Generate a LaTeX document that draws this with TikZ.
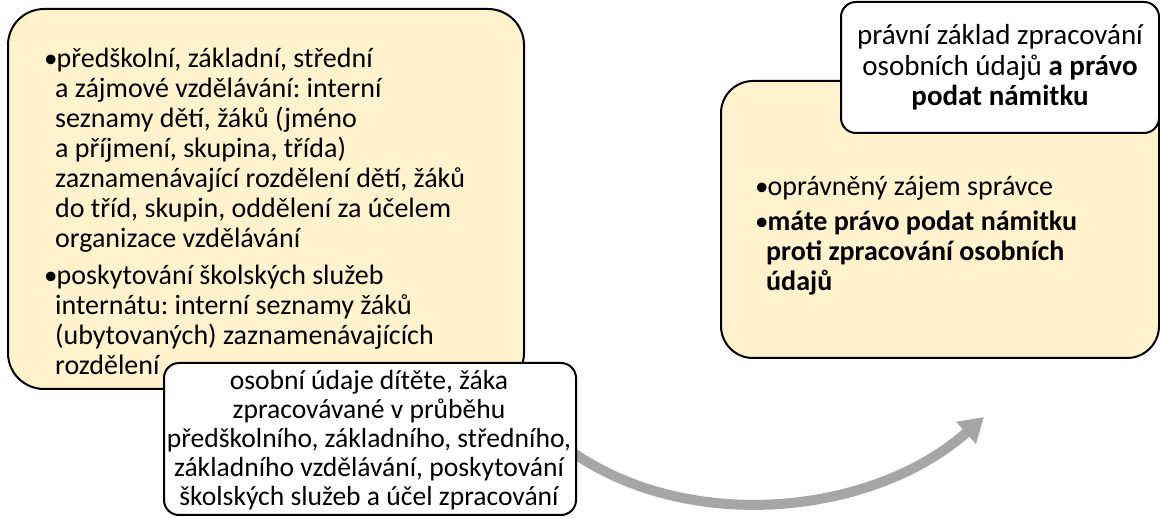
\documentclass[tikz,border=0pt]{standalone}
\usepackage{fontspec}
\setmainfont{Carlito}
\usetikzlibrary{arrows.meta,backgrounds}
\definecolor{boxyellow}{HTML}{FFF2CC}
\definecolor{arrowgray}{HTML}{A6A6A6}
\newcommand{\bitem}[1]{\par\hangindent=11pt\hangafter=1\noindent\makebox[12.5pt][l]{\raisebox{0.5pt}{\fontsize{27pt}{27pt}\selectfont\mdseries •}}#1}
\tikzset{
  ybox/.style={draw=black, line width=2pt, fill=boxyellow, rounded corners=#1, anchor=north west, inner sep=0pt},
  wbox/.style={draw=black, line width=2pt, fill=white, rounded corners=15pt, anchor=north west, inner sep=0pt},
  txt/.style={inner sep=0pt, anchor=base west},
  ctxt/.style={inner sep=0pt, anchor=base},
  bigarrow/.style={draw=arrowgray, line width=10pt, -{Triangle[width=28pt,length=24pt]}, arrowgray}
}
\frenchspacing
\begin{document}
\begin{tikzpicture}[x=1pt,y=-1pt]
\useasboundingbox (0,0) rectangle (1160,518);
% left box
\node[ybox=36pt, minimum width=516pt, minimum height=380pt] (lbox) at (7,8) {};
\node[txt] (ltext) at (44,68) {\parbox[t]{470pt}{\fontsize{28pt}{30pt}\selectfont\setlength{\parskip}{7pt}%
\bitem{předškolní, základní, střední\\a zájmové vzdělávání: interní\\seznamy dětí, žáků (jméno\\a příjmení, skupina, třída)\\zaznamenávající rozdělení dětí, žáků\\do tříd, skupin, oddělení za účelem\\organizace vzdělávání}
\bitem{poskytování školských služeb\\internátu: interní seznamy žáků\\(ubytovaných) zaznamenávajících\\rozdělení}}};
% middle white box
\node[wbox, minimum width=412pt, minimum height=152pt] (mbox) at (163,362) {};
\node[ctxt] (mtext) at (369,390) {\parbox[t]{410pt}{\centering\fontsize{27.6pt}{29pt}\selectfont osobní údaje dítěte, žáka\\zpracovávané v průběhu\\předškolního, základního, středního,\\základního vzdělávání, poskytování\\školských služeb a účel zpracování}};
% right box
\node[ybox=32pt, minimum width=438pt, minimum height=277pt] (rbox) at (720,80) {};
\node[txt] (rtext) at (755,196) {\parbox[t]{390pt}{\fontsize{28pt}{30pt}\selectfont\setlength{\parskip}{5pt}%
\bitem{oprávněný zájem správce}
\bitem{\textbf{máte právo podat námitku\\proti zpracování osobních\\údajů}}}};
% top white box
\node[wbox, minimum width=318pt, minimum height=131pt] (tbox) at (840,1) {};
\node[ctxt] (ttext) at (1000,45) {\parbox[t]{316pt}{\centering\fontsize{29pt}{30.5pt}\selectfont právní základ zpracování\\osobních údajů \textbf{a právo}\\\textbf{podat námitku}}};
% arrow
\coordinate (astart) at (530,415);
\coordinate (aend) at (984,417);
\begin{pgfonlayer}{background}
\draw[bigarrow] (astart) .. controls (640,537) and (860,527) .. (aend);
\end{pgfonlayer}
\end{tikzpicture}
\end{document}
